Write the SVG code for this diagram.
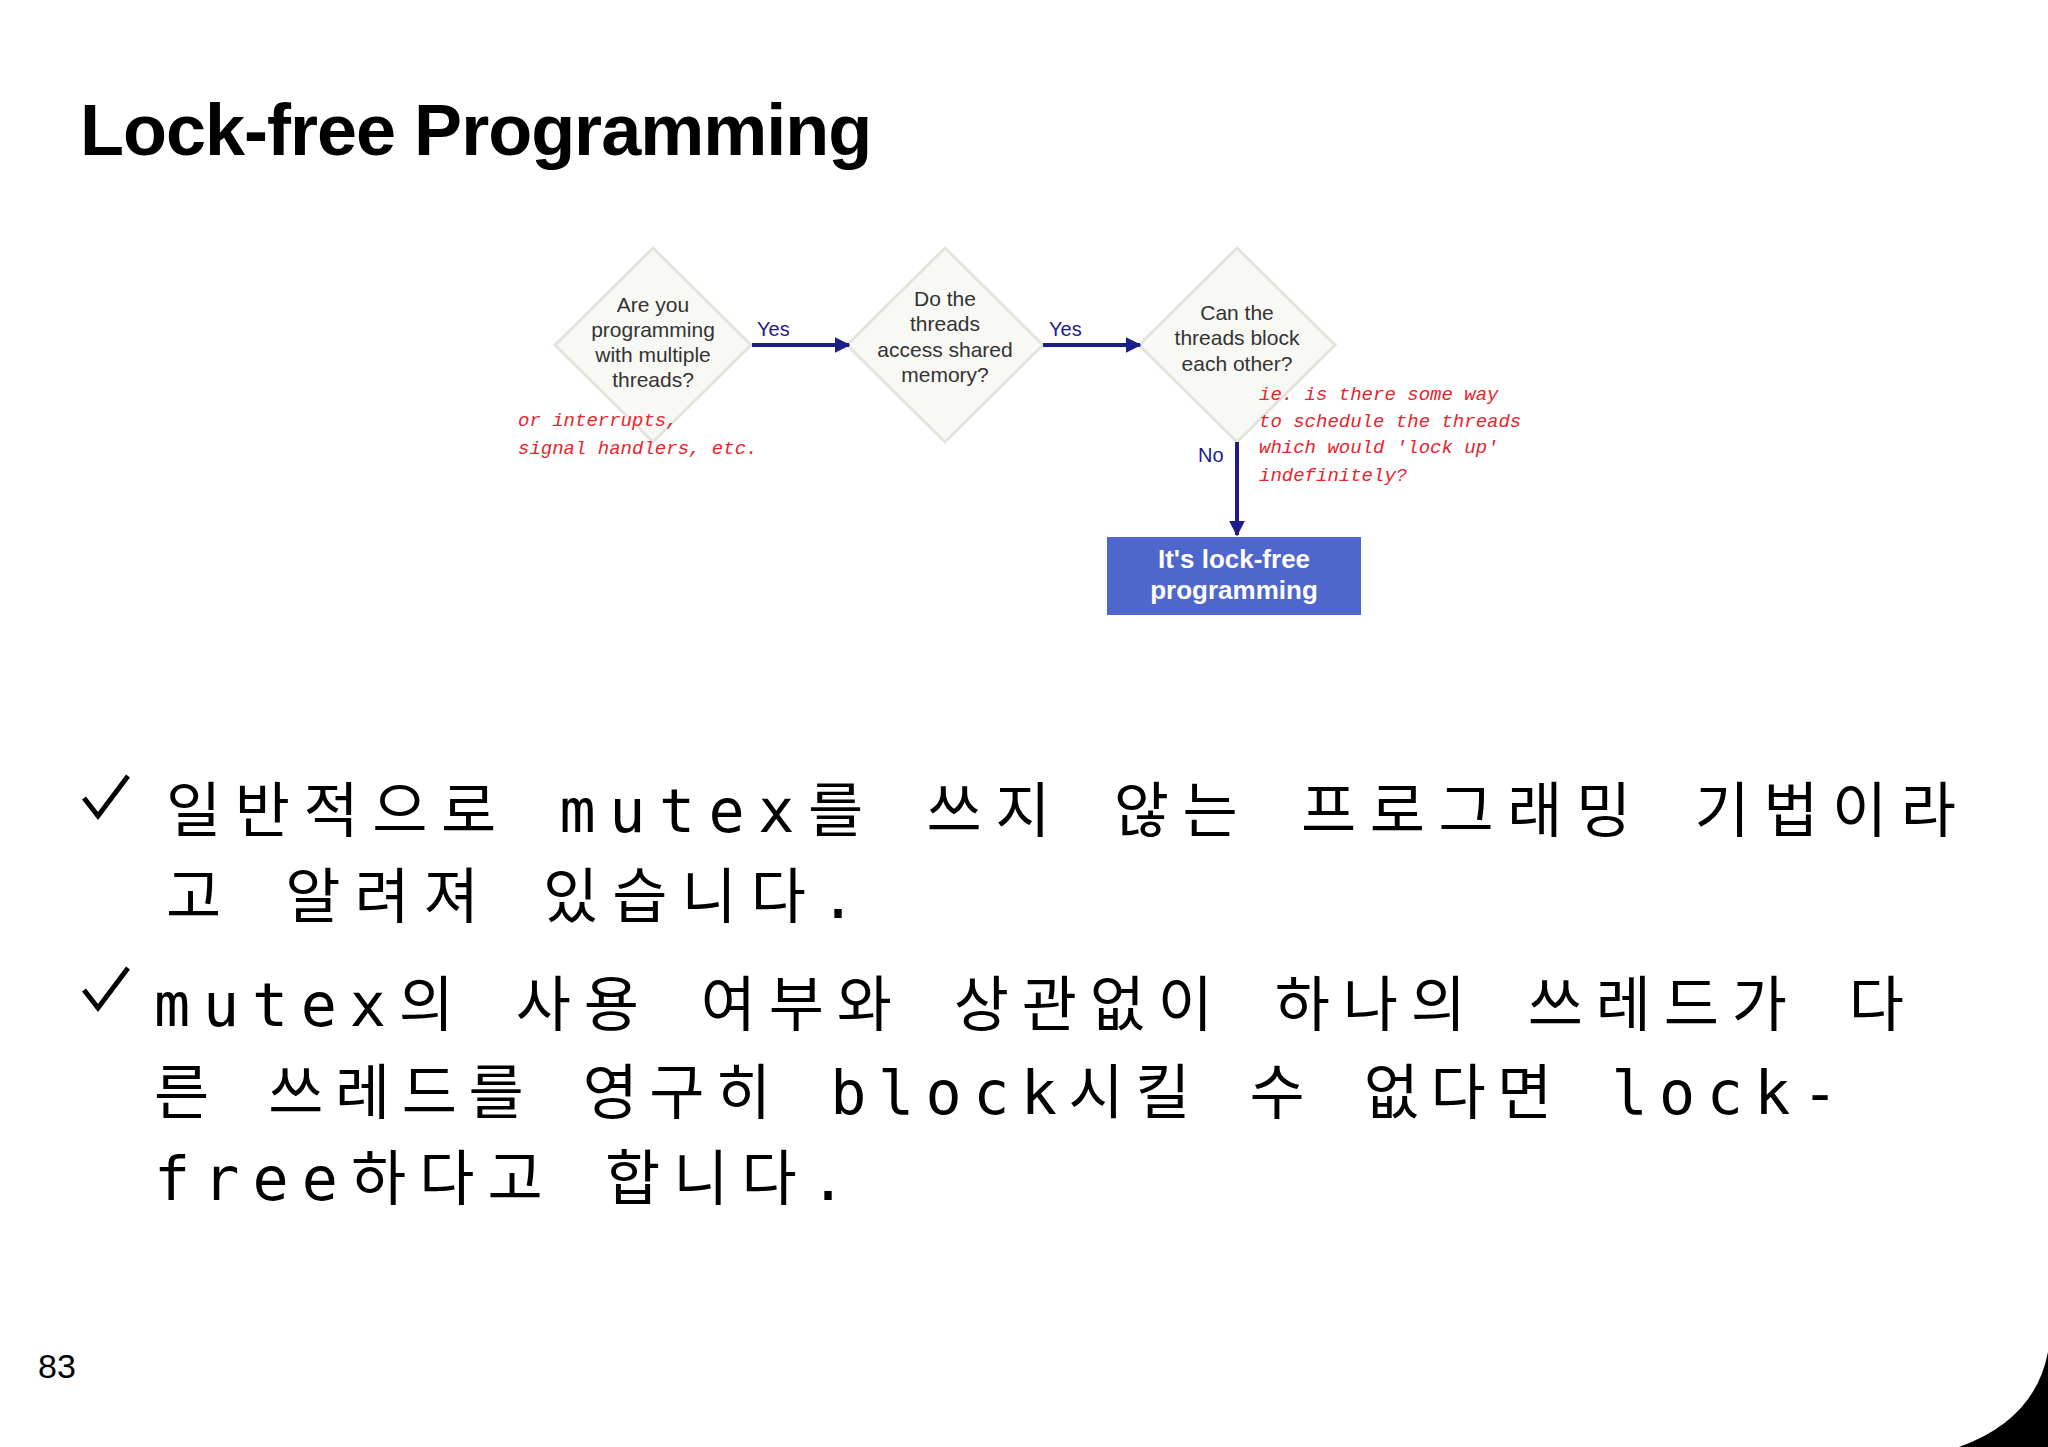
<svg xmlns="http://www.w3.org/2000/svg" width="2048" height="1447" viewBox="0 0 2048 1447">
<defs>
<marker id="ah" viewBox="0 0 10 10" refX="9" refY="5" markerWidth="4" markerHeight="4" orient="auto"><path d="M0,0 L10,5 L0,10 z" fill="#1c1c8a"/></marker>
<filter id="sh" x="-20%" y="-20%" width="140%" height="140%"><feGaussianBlur stdDeviation="3"/></filter>
</defs>
<style>
.d{fill:#f8f8f4;stroke:#e4e4dc;stroke-width:3}
.dt{font-family:"Liberation Sans",Arial,sans-serif;font-size:21px;fill:#333;text-anchor:middle}
.lb{font-family:"Liberation Sans",Arial,sans-serif;font-size:20px;fill:#1c1c8a}
.hw{font-family:"Liberation Mono",monospace;font-size:19px;fill:#e8242c;font-style:italic}
.kr{font-family:"DejaVu Sans Mono","Noto Sans CJK KR",monospace;font-size:60px;fill:#000}
.c{stroke:#1c1c8a;stroke-width:4;fill:none;marker-end:url(#ah)}
</style>
<rect width="2048" height="1447" fill="#fff"/>
<text x="80" y="155" font-family="Liberation Sans,Arial,sans-serif" font-weight="bold" font-size="72" fill="#000" letter-spacing="-1">Lock-free Programming</text>
<g id="n1"><path d="M653,248 L751,345 L653,442 L555,345 Z" class="d"/>
<text class="dt"><tspan x="653" y="312">Are you</tspan><tspan x="653" y="337">programming</tspan><tspan x="653" y="362">with multiple</tspan><tspan x="653" y="387">threads?</tspan></text></g>
<g id="n2"><path d="M945,248 L1043,345 L945,442 L847,345 Z" class="d"/>
<text class="dt"><tspan x="945" y="306">Do the</tspan><tspan x="945" y="331">threads</tspan><tspan x="945" y="357">access shared</tspan><tspan x="945" y="382">memory?</tspan></text></g>
<g id="n3"><path d="M1237,248 L1335,345 L1237,442 L1139,345 Z" class="d"/>
<text class="dt"><tspan x="1237" y="320">Can the</tspan><tspan x="1237" y="345">threads block</tspan><tspan x="1237" y="371">each other?</tspan></text></g>
<g id="n4"><rect x="1107" y="537" width="254" height="78" fill="#4f66cc"/>
<text font-family="Liberation Sans,Arial,sans-serif" font-weight="bold" font-size="26" fill="#fff" text-anchor="middle"><tspan x="1234" y="568">It's lock-free</tspan><tspan x="1234" y="599">programming</tspan></text></g>
<g id="connectors">
<line x1="752" y1="345" x2="849" y2="345" class="c"/>
<line x1="1043" y1="345" x2="1140" y2="345" class="c"/>
<line x1="1237" y1="442" x2="1237" y2="535" class="c"/>
<text x="757" y="336" class="lb">Yes</text>
<text x="1049" y="336" class="lb">Yes</text>
<text x="1198" y="462" class="lb">No</text>
</g>
<g id="notes">
<text x="518" y="426" class="hw">or interrupts,</text>
<text x="518" y="454" class="hw">signal handlers, etc.</text>
<text x="1259" y="400" class="hw">ie. is there some way</text>
<text x="1259" y="427" class="hw">to schedule the threads</text>
<text x="1259" y="453" class="hw">which would 'lock up'</text>
<text x="1259" y="481" class="hw">indefinitely?</text>
</g>
<g id="bullets">
<path d="M84,798 L98,816 L128,776" stroke="#000" stroke-width="5" fill="none"/>
<path d="M84,990 L98,1008 L128,968" stroke="#000" stroke-width="5" fill="none"/>
<text x="166" y="832" class="kr" textLength="1790" lengthAdjust="spacing">일반적으로 mutex를 쓰지 않는 프로그래밍 기법이라</text>
<text x="166" y="918" class="kr" textLength="690" lengthAdjust="spacing">고 알려져 있습니다.</text>
<text x="154" y="1026" class="kr" textLength="1750" lengthAdjust="spacing">mutex의 사용 여부와 상관없이 하나의 쓰레드가 다</text>
<text x="154" y="1114" class="kr" textLength="1684" lengthAdjust="spacing">른 쓰레드를 영구히 block시킬 수 없다면 lock-</text>
<text x="154" y="1200" class="kr" textLength="692" lengthAdjust="spacing">free하다고 합니다.</text>
</g>
<text x="38" y="1378" font-family="Liberation Sans,Arial,sans-serif" font-size="34" fill="#000">83</text>
<path d="M1959,1447 Q2035,1420 2048,1352 L2048,1447 Z" fill="#000"/>
</svg>
